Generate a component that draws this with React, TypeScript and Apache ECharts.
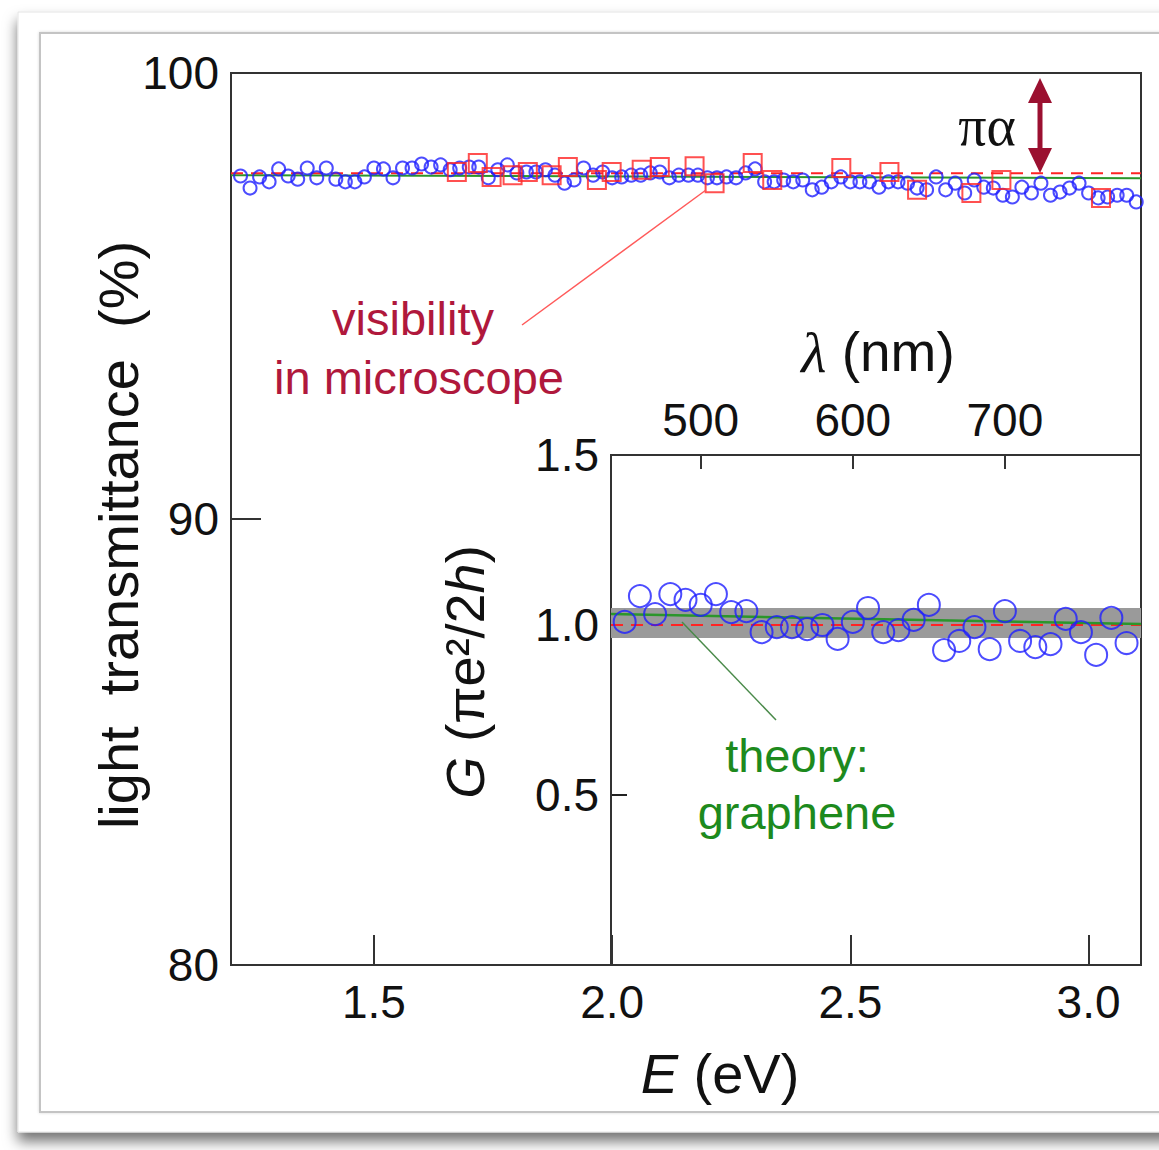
import React, { useEffect, useRef } from "react";
import * as echarts from "echarts";

// ---------- data ----------
const mainE = [1.22,1.24,1.26,1.28,1.30,1.32,1.34,1.36,1.38,1.40,1.42,1.44,1.46,1.48,1.50,1.52,1.54,1.56,1.58,1.60,1.62,1.64,1.66,1.68,1.70,1.72,1.74,1.76,1.78,1.80,1.82,1.84,1.86,1.88,1.90,1.92,1.94,1.96,1.98,2.00,2.02,2.04,2.06,2.08,2.10,2.12,2.14,2.16,2.18,2.20,2.22,2.24,2.26,2.28,2.30,2.32,2.34,2.36,2.38,2.40,2.42,2.44,2.46,2.48,2.50,2.52,2.54,2.56,2.58,2.60,2.62,2.64,2.66,2.68,2.70,2.72,2.74,2.76,2.78,2.80,2.82,2.84,2.86,2.88,2.90,2.92,2.94,2.96,2.98,3.00,3.02,3.04,3.06,3.08,3.10];
const mainT = [97.69,97.42,97.67,97.56,97.85,97.69,97.62,97.87,97.65,97.87,97.62,97.56,97.56,97.67,97.87,97.85,97.65,97.87,97.87,97.96,97.89,97.94,97.83,97.87,97.89,97.89,97.65,97.83,97.94,97.76,97.78,97.78,97.83,97.71,97.53,97.60,97.87,97.71,97.78,97.65,97.67,97.71,97.71,97.76,97.78,97.65,97.71,97.71,97.71,97.65,97.65,97.67,97.65,97.76,97.85,97.56,97.56,97.60,97.56,97.60,97.38,97.44,97.56,97.67,97.56,97.56,97.56,97.44,97.56,97.56,97.53,97.42,97.38,97.67,97.38,97.53,97.31,97.60,97.44,97.42,97.26,97.22,97.44,97.31,97.53,97.26,97.33,97.42,97.53,97.31,97.20,97.22,97.26,97.26,97.11];

const microE = [1.674,1.718,1.747,1.791,1.823,1.873,1.907,1.968,1.999,2.062,2.100,2.173,2.215,2.295,2.336,2.481,2.582,2.640,2.754,2.817,3.026];
const microT = [97.78,97.98,97.67,97.71,97.78,97.71,97.89,97.60,97.78,97.83,97.89,97.91,97.53,97.98,97.60,97.87,97.78,97.38,97.31,97.60,97.20];

const theoryMainE = [1.2, 3.11];
const theoryMainT = [97.71, 97.64];
const paLevel = 97.75;

const insetLambda = [450,460,470,480,490,500,510,520,530,540,550,560,570,580,590,600,610,620,630,640,650,660,670,680,690,700,710,720,730,740,750,760,770,780];
const insetG = [1.009,1.085,1.032,1.091,1.074,1.059,1.091,1.038,1.041,0.979,0.994,0.994,0.988,1.000,0.959,1.009,1.050,0.979,0.985,1.015,1.059,0.926,0.953,0.994,0.929,1.041,0.953,0.935,0.944,1.018,0.979,0.912,1.021,0.947];

const theoryInsetL = [441, 789.5];
const theoryInsetG = [1.032, 1.003];
const insetRef = 1.0;
const bandLow = 0.962;
const bandHigh = 1.05;

const mainXTicks = [1.5, 2.0, 2.5, 3.0];
const insetXTicks = [500, 600, 700];
const insetYTicks = [0.5, 1.0, 1.5];

const BLUE = "#1f1fff";
const RED = "#ff2424";
const GREEN = "#2b962b";
const FONT = "Liberation Sans, Arial, sans-serif";

export default function App() {
  const ref = useRef<HTMLDivElement>(null);
  useEffect(() => {
    if (!ref.current) return;
    const chart = echarts.init(ref.current, null, { renderer: "svg" });
    const tickLabel = { fontSize: 46, color: "#111", fontFamily: FONT };
    const center = { align: "center", verticalAlign: "middle", textAlign: "center", textVerticalAlign: "middle" };
    const option: any = {
      animation: false,
      backgroundColor: "#fff",
      grid: [
        { left: 231, top: 73, width: 910, height: 892, show: true, borderColor: "#333", borderWidth: 2, backgroundColor: "transparent", z: 1 },
        { left: 611, top: 455, width: 530, height: 510, show: true, borderColor: "#333", borderWidth: 2, backgroundColor: "transparent", z: 1 },
      ],
      xAxis: [
        {
          gridIndex: 0, type: "value", min: 1.2, max: 3.11, position: "bottom",
          axisLine: { show: false, onZero: false },
          axisTick: { show: true, inside: true, length: 30, customValues: mainXTicks, lineStyle: { color: "#333", width: 2 } },
          axisLabel: { ...tickLabel, margin: 14, customValues: mainXTicks, formatter: (v: number) => v.toFixed(1) },
          splitLine: { show: false },
        },
        {
          gridIndex: 1, type: "value", min: 441, max: 789.5, position: "top",
          axisLine: { show: false, onZero: false },
          axisTick: { show: true, inside: true, length: 14, customValues: insetXTicks, lineStyle: { color: "#333", width: 2 } },
          axisLabel: { ...tickLabel, margin: 12, customValues: insetXTicks },
          splitLine: { show: false },
        },
      ],
      yAxis: [
        {
          gridIndex: 0, type: "value", min: 80, max: 100, interval: 10,
          axisLine: { show: false, onZero: false },
          axisTick: { show: true, inside: true, length: 30, lineStyle: { color: "#333", width: 2 } },
          axisLabel: { ...tickLabel, margin: 12 },
          splitLine: { show: false },
        },
        {
          gridIndex: 1, type: "value", min: 0, max: 1.5,
          axisLine: { show: false, onZero: false },
          axisTick: { show: true, inside: true, length: 16, customValues: insetYTicks, lineStyle: { color: "#222", width: 2 } },
          axisLabel: { ...tickLabel, margin: 12, customValues: insetYTicks, formatter: (v: number) => v.toFixed(1) },
          splitLine: { show: false },
        },
      ],
      series: [
        {
          type: "line", xAxisIndex: 0, yAxisIndex: 0, symbol: "none", silent: true, z: 2,
          data: theoryMainE.map((e, i) => [e, theoryMainT[i]]),
          lineStyle: { color: GREEN, width: 2 },
        },
        {
          type: "line", xAxisIndex: 0, yAxisIndex: 0, symbol: "none", silent: true, z: 2,
          data: [[1.2, paLevel], [3.11, paLevel]],
          lineStyle: { color: RED, width: 2, type: [12, 8] },
        },
        {
          type: "scatter", xAxisIndex: 0, yAxisIndex: 0, symbol: "circle", symbolSize: 13, z: 3,
          data: mainE.map((e, i) => [e, mainT[i]]),
          itemStyle: { color: "rgba(0,0,0,0)", borderColor: BLUE, borderWidth: 2 },
        },
        {
          type: "scatter", xAxisIndex: 0, yAxisIndex: 0, symbol: "rect", symbolSize: 18, z: 4,
          data: microE.map((e, i) => [e, microT[i]]),
          itemStyle: { color: "rgba(0,0,0,0)", borderColor: RED, borderWidth: 2 },
        },
        {
          type: "line", xAxisIndex: 1, yAxisIndex: 1, symbol: "none", silent: true, z: 2,
          data: [[441, insetRef], [789.5, insetRef]],
          lineStyle: { color: RED, width: 2, type: [12, 8] },
          markArea: {
            silent: true,
            itemStyle: { color: "#9a9a9a", opacity: 1 },
            data: [[{ yAxis: bandLow }, { yAxis: bandHigh }]],
          },
        },
        {
          type: "line", xAxisIndex: 1, yAxisIndex: 1, symbol: "none", silent: true, z: 3,
          data: theoryInsetL.map((l, i) => [l, theoryInsetG[i]]),
          lineStyle: { color: GREEN, width: 2.5 },
        },
        {
          type: "scatter", xAxisIndex: 1, yAxisIndex: 1, symbol: "circle", symbolSize: 22, z: 4,
          data: insetLambda.map((l, i) => [l, insetG[i]]),
          itemStyle: { color: "rgba(0,0,0,0)", borderColor: BLUE, borderWidth: 2 },
        },
      ],
      graphic: [
        {
          type: "rect", z: -10, silent: true,
          shape: { x: 18, y: 12, width: 1160, height: 1120 },
          style: { fill: "#fff", stroke: "#e4e4e4", lineWidth: 1, shadowBlur: 14, shadowOffsetY: 9, shadowColor: "rgba(0,0,0,0.55)" },
        },
        {
          type: "rect", z: -9, silent: true,
          shape: { x: 40, y: 33, width: 1140, height: 1079 },
          style: { fill: "#fff", stroke: "#c4c4c4", lineWidth: 2, shadowBlur: 3, shadowColor: "rgba(0,0,0,0.15)" },
        },
        // axis titles
        {
          type: "text", x: 118, y: 535, rotation: Math.PI / 2, z: 50,
          style: { text: "light  transmittance  (%)", font: `56px ${FONT}`, fill: "#111", ...center },
        },
        {
          type: "text", x: 720, y: 1073, z: 50,
          style: {
            text: "{i|E} (eV)", font: `56px ${FONT}`, fill: "#111", ...center,
            rich: { i: { fontStyle: "italic", fontSize: 56, fontFamily: FONT, fill: "#111" } },
          },
        },
        {
          type: "text", x: 878, y: 352, z: 50,
          style: {
            text: "{i|λ} (nm)", font: `55px ${FONT}`, fill: "#111", ...center,
            rich: { i: { fontStyle: "italic", fontSize: 58, fontFamily: "Liberation Serif, serif", fill: "#111" } },
          },
        },
        {
          type: "text", x: 465, y: 672, rotation: Math.PI / 2, z: 50,
          style: {
            text: "{i|G} (πe²/2{i|h})", font: `54px ${FONT}`, fill: "#111", ...center,
            rich: { i: { fontStyle: "italic", fontSize: 54, fontFamily: FONT, fill: "#111" } },
          },
        },
        // annotations
        {
          type: "text", x: 413, y: 318, z: 50,
          style: { text: "visibility", font: `47px ${FONT}`, fill: "#b0183c", ...center },
        },
        {
          type: "text", x: 419, y: 377, z: 50,
          style: { text: "in microscope", font: `47px ${FONT}`, fill: "#b0183c", ...center },
        },
        {
          type: "line", z: 50, silent: true,
          shape: { x1: 522, y1: 325, x2: 706, y2: 190 },
          style: { stroke: "#ff5a5a", lineWidth: 1.5 },
        },
        {
          type: "text", x: 797, y: 755, z: 50,
          style: { text: "theory:", font: `47px ${FONT}`, fill: "#1d8a1d", ...center },
        },
        {
          type: "text", x: 797, y: 812, z: 50,
          style: { text: "graphene", font: `47px ${FONT}`, fill: "#1d8a1d", ...center },
        },
        {
          type: "line", z: 50, silent: true,
          shape: { x1: 776, y1: 720, x2: 682, y2: 622 },
          style: { stroke: "#4a8a4a", lineWidth: 1.5 },
        },
        {
          type: "text", x: 987, y: 126, z: 50,
          style: { text: "πα", font: `56px Liberation Serif, serif`, fill: "#111", ...center },
        },
        {
          type: "line", z: 50, silent: true,
          shape: { x1: 1040, y1: 96, x2: 1040, y2: 156 },
          style: { stroke: "#9b1030", lineWidth: 5 },
        },
        {
          type: "polygon", z: 50, silent: true,
          shape: { points: [[1040, 78], [1028, 103], [1052, 103]] },
          style: { fill: "#9b1030" },
        },
        {
          type: "polygon", z: 50, silent: true,
          shape: { points: [[1040, 173], [1028, 148], [1052, 148]] },
          style: { fill: "#9b1030" },
        },
      ],
    };
    chart.setOption(option);
    return () => chart.dispose();
  }, []);
  return (
    <div
      ref={ref}
      style={{ position: "fixed", left: 0, top: 0, width: 1159, height: 1150 }}
    />
  );
}
